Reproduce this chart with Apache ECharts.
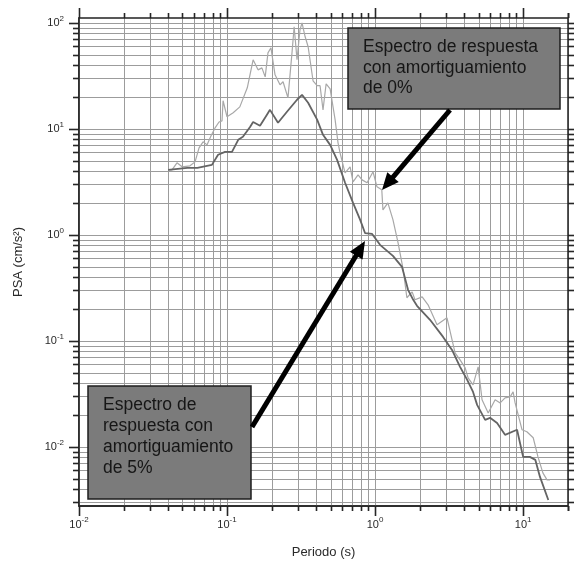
<!DOCTYPE html>
<html><head><meta charset="utf-8">
<script src="https://cdn.jsdelivr.net/npm/echarts@6/dist/echarts.min.js"></script>
<style>html,body{margin:0;padding:0;background:#fff}#c{width:574px;height:565px}</style>
</head><body><div id="c"></div>
<script>
// ---- data ----
const periodo0 = [0.040, 0.0425, 0.0459, 0.0497, 0.0562, 0.0608, 0.0647, 0.0689, 0.0733, 0.078, 0.083, 0.0883, 0.0925, 0.094, 0.100, 0.110, 0.122, 0.137, 0.150, 0.162, 0.172, 0.181, 0.189, 0.198, 0.211, 0.228, 0.239, 0.258, 0.275, 0.284, 0.297, 0.311, 0.321, 0.337, 0.353, 0.381, 0.406, 0.425, 0.445, 0.467, 0.497, 0.537, 0.562, 0.580, 0.627, 0.678, 0.710, 0.767, 0.817, 0.883, 0.969, 1.03, 1.11, 1.13, 1.22, 1.32, 1.43, 1.55, 1.64, 1.78, 1.86, 2.08, 2.28, 2.62, 3.06, 3.47, 3.75, 4.06, 4.25, 4.59, 4.97, 5.28, 5.81, 6.47, 7.00, 7.55, 8.17, 8.56, 8.83, 9.84, 10.6, 11.7, 12.6, 13.6, 14.5, 15.2];
const psa0 = [4.10, 4.10, 4.78, 4.38, 4.48, 4.88, 6.62, 7.54, 7.06, 8.59, 10.2, 11.6, 11.9, 18.4, 13.0, 14.2, 16.1, 24.4, 44.8, 36.0, 37.6, 30.9, 52.1, 58.1, 32.3, 26.0, 27.8, 19.6, 53.2, 91.7, 44.8, 85.9, 100, 73.8, 59.4, 28.4, 25.5, 25.5, 15.1, 26.6, 23.8, 12.2, 7.38, 5.94, 3.85, 4.38, 3.16, 3.68, 3.30, 3.10, 3.93, 2.84, 2.66, 1.72, 2.00, 1.39, 0.840, 0.468, 0.255, 0.290, 0.244, 0.260, 0.219, 0.142, 0.165, 0.0771, 0.0662, 0.0557, 0.0448, 0.0385, 0.0569, 0.0278, 0.0209, 0.0278, 0.0260, 0.0290, 0.0296, 0.0330, 0.0260, 0.0145, 0.0139, 0.0122, 0.00805, 0.00569, 0.00489, 0.00489];
const periodo5 = [0.040, 0.054, 0.063, 0.079, 0.087, 0.097, 0.108, 0.119, 0.128, 0.143, 0.150, 0.167, 0.186, 0.195, 0.221, 0.254, 0.297, 0.321, 0.353, 0.406, 0.445, 0.497, 0.554, 0.627, 0.710, 0.792, 0.855, 0.955, 1.08, 1.32, 1.52, 1.67, 1.81, 1.92, 2.35, 2.88, 3.31, 3.75, 4.19, 4.59, 4.89, 5.54, 5.98, 6.67, 7.55, 9.10, 10.0, 11.1, 12.1, 13.0, 14.8];
const psa5 = [4.10, 4.29, 4.29, 4.57, 5.69, 6.07, 6.07, 7.87, 8.41, 10.4, 11.6, 10.7, 13.6, 15.1, 11.4, 14.5, 18.8, 20.9, 17.6, 12.2, 8.78, 7.06, 5.10, 3.10, 2.00, 1.39, 1.04, 1.02, 0.805, 0.634, 0.499, 0.303, 0.244, 0.214, 0.158, 0.109, 0.0822, 0.0569, 0.0429, 0.0330, 0.0249, 0.0180, 0.0188, 0.0168, 0.0130, 0.0145, 0.00805, 0.00805, 0.00754, 0.00521, 0.00316];

// tick labels (powers of ten shown on each axis)
const xTickExponents = [-2, -1, 0, 1];
const yTickExponents = [-2, -1, 0, 1, 2];
// grid lines: multipliers within each decade
const gridMultipliers = [1, 2, 3, 4, 5, 6, 7, 8, 9];
const xDecades = [-2, -1, 0, 1];
const yDecades = [-3, -2, -1, 0, 1, 2];

const xMin = 0.01, xMax = 20.1, yMin = 0.00277, yMax = 111;

const annot0 = 'Espectro de respuesta\ncon amortiguamiento\nde 0%';
const annot5 = 'Espectro de\nrespuesta con\namortiguamiento\nde 5%';

// ---- build ----
const FONT = '"Liberation Sans", Arial, sans-serif';
const xGrid = [], yGrid = [];
xDecades.forEach(d => gridMultipliers.forEach(m => {
  const v = +(m * Math.pow(10, d)).toPrecision(6);
  if (v >= xMin && v <= xMax) xGrid.push([v, 1, m === 1 ? 1 : 0]);
}));
xGrid.push([20, 1, 0]);
yDecades.forEach(d => gridMultipliers.forEach(m => {
  const v = +(m * Math.pow(10, d)).toPrecision(6);
  if (v >= yMin && v <= yMax) yGrid.push([1, v, m === 1 ? 1 : 0]);
}));

function powLabel(exps) {
  return function (v) {
    const e = Math.log10(v), r = Math.round(e);
    if (Math.abs(e - r) < 1e-6 && exps.indexOf(r) >= 0) return '{b|10}{s|' + r + '}';
    return '';
  };
}
const richLab = {
  b: { fontSize: 11, fontFamily: FONT, color: '#2a2a2a', lineHeight: 11, verticalAlign: 'bottom' },
  s: { fontSize: 8, fontFamily: FONT, color: '#2a2a2a', lineHeight: 8, padding: [0, 0, 6, 0], verticalAlign: 'bottom' }
};

const GRIDC = '#9c9c9c', TICKC = '#262626';
function renderV(params, api) {
  const cs = params.coordSys;
  const x = Math.round(api.coord([api.value(0), 1])[0]) + 0.5;
  const tl = api.value(2) === 1 ? 10 : 5;
  const top = cs.y, bot = cs.y + cs.height;
  return { type: 'group', children: [
    { type: 'line', shape: { x1: x, y1: top, x2: x, y2: bot }, style: { stroke: GRIDC, lineWidth: 1 } },
    { type: 'line', shape: { x1: x, y1: bot, x2: x, y2: bot + tl }, style: { stroke: TICKC, lineWidth: 1.6 } },
    { type: 'line', shape: { x1: x, y1: top, x2: x, y2: top - tl }, style: { stroke: TICKC, lineWidth: 1.6 } }
  ] };
}
function renderH(params, api) {
  const cs = params.coordSys;
  const y = Math.round(api.coord([1, api.value(1)])[1]) + 0.5;
  const tl = api.value(2) === 1 ? 10 : 6;
  const l = cs.x, r = cs.x + cs.width;
  return { type: 'group', children: [
    { type: 'line', shape: { x1: l, y1: y, x2: r, y2: y }, style: { stroke: GRIDC, lineWidth: 1 } },
    { type: 'line', shape: { x1: l - tl, y1: y, x2: l, y2: y }, style: { stroke: TICKC, lineWidth: 1.6 } },
    { type: 'line', shape: { x1: r, y1: y, x2: r + tl, y2: y }, style: { stroke: TICKC, lineWidth: 1.6 } }
  ] };
}

function arrow(x1, y1, x2, y2) {
  const dx = x2 - x1, dy = y2 - y1, L = Math.hypot(dx, dy);
  const ux = dx / L, uy = dy / L, hl = 17, hw = 7.5;
  const bx = x2 - ux * hl, by = y2 - uy * hl;
  return [
    { type: 'line', z: 20, shape: { x1: x1, y1: y1, x2: bx + ux * 2, y2: by + uy * 2 }, style: { stroke: '#000', lineWidth: 5 } },
    { type: 'polygon', z: 20, shape: { points: [[x2, y2], [bx - uy * hw, by + ux * hw], [bx + uy * hw, by - ux * hw]] }, style: { fill: '#000' } }
  ];
}

const chart = echarts.init(document.getElementById('c'), null, { renderer: 'canvas' });
chart.setOption({
  animation: false,
  backgroundColor: '#fff',
  grid: { left: 79, top: 18, right: 6, bottom: 59, show: true, borderColor: '#222', borderWidth: 1.5, backgroundColor: 'transparent', z: 5 },
  xAxis: {
    type: 'log', logBase: 10, min: xMin, max: xMax,
    name: 'Periodo (s)', nameLocation: 'middle', nameGap: 40,
    nameTextStyle: { fontSize: 13, fontFamily: FONT, color: '#2a2a2a' },
    axisLine: { show: true, lineStyle: { color: '#222', width: 1.5 } },
    axisTick: { show: false }, splitLine: { show: false },
    axisLabel: { formatter: powLabel(xTickExponents), rich: richLab, margin: 13, showMinLabel: true, showMaxLabel: true, hideOverlap: false }
  },
  yAxis: {
    type: 'log', logBase: 10, min: yMin, max: yMax,
    name: 'PSA (cm/s²)', nameLocation: 'middle', nameGap: 54,
    nameTextStyle: { fontSize: 13, fontFamily: FONT, color: '#2a2a2a' },
    axisLine: { show: true, lineStyle: { color: '#222', width: 1.5 } },
    axisTick: { show: false }, splitLine: { show: false },
    axisLabel: { formatter: powLabel(yTickExponents), rich: richLab, margin: 15, hideOverlap: false }
  },
  series: [
    { type: 'custom', name: 'vgrid', data: xGrid, renderItem: renderV, clip: false, silent: true, z: 1, encode: { x: 0, y: 1 } },
    { type: 'custom', name: 'hgrid', data: yGrid, renderItem: renderH, clip: false, silent: true, z: 1, encode: { x: 0, y: 1 } },
    { type: 'line', name: '0%', data: periodo0.map((t, i) => [t, psa0[i]]), symbol: 'none', z: 3,
      lineStyle: { color: '#a8a8a8', width: 1.2 } },
    { type: 'line', name: '5%', data: periodo5.map((t, i) => [t, psa5[i]]), symbol: 'none', z: 4,
      lineStyle: { color: '#646464', width: 1.8 } }
  ],
  graphic: [
    { type: 'rect', z: 20, shape: { x: 348, y: 28, width: 212, height: 81 }, style: { fill: '#7b7b7b', stroke: '#1e1e1e', lineWidth: 1.5 } },
    { type: 'text', z: 21, x: 363, y: 37, style: { text: annot0, fontSize: 17.5, fontFamily: FONT, fill: '#161616', lineHeight: 20.5, verticalAlign: 'top' } },
    { type: 'rect', z: 20, shape: { x: 88, y: 386, width: 163, height: 113 }, style: { fill: '#7b7b7b', stroke: '#1e1e1e', lineWidth: 1.5 } },
    { type: 'text', z: 21, x: 103, y: 394.5, style: { text: annot5, fontSize: 17.5, fontFamily: FONT, fill: '#161616', lineHeight: 21, verticalAlign: 'top' } }
  ].concat(arrow(450, 110, 382, 190)).concat(arrow(252, 427, 365, 241))
});
</script>
</body></html>
